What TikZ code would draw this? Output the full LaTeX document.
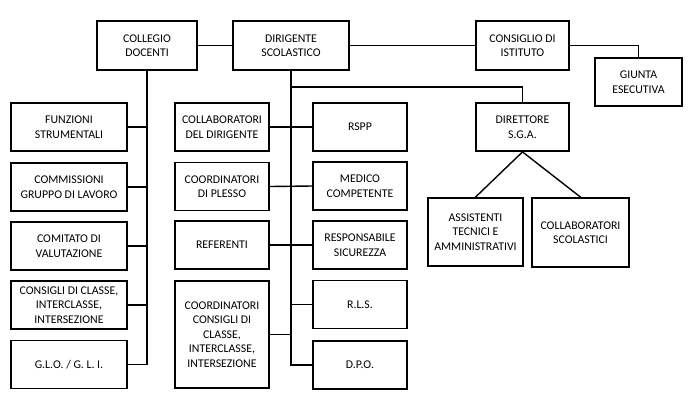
\documentclass[tikz,border=0pt]{standalone}
\usepackage{fontspec}
\setmainfont{Carlito}
\usepackage{tikz}
\tikzstyle{orgbox} = [draw=black, fill=white, line width=1.8pt,
rectangle, inner sep=2pt, align=center, minimum height=48pt,
font=\fontsize{11.8}{14.5}\selectfont]
\tikzstyle{link} = [line width=1.4pt]

\begin{document}
\begin{tikzpicture}[x=1pt,y=-1pt]
		\useasboundingbox (0,0) rectangle (691,405);
		% vertici
		\node [orgbox, minimum width=100pt, minimum height=49pt] (coll) at (147,45.5) {COLLEGIO\\DOCENTI};
		\node [orgbox, minimum width=116pt, minimum height=49pt] (dir) at (291,45.5) {DIRIGENTE\\SCOLASTICO};
		\node [orgbox, minimum width=93pt, minimum height=49pt] (cons) at (522.5,45.5) {CONSIGLIO DI\\ISTITUTO};
		\node [orgbox, minimum width=87pt] (giunta) at (638.5,82) {GIUNTA\\ESECUTIVA};
		% colonna del collegio
		\node [orgbox, minimum width=116pt] (funz) at (69,127) {FUNZIONI\\STRUMENTALI};
		\node [orgbox, minimum width=116pt] (comm) at (69,187) {COMMISSIONI\\GRUPPO DI LAVORO};
		\node [orgbox, minimum width=116pt] (comit) at (69,246) {COMITATO DI\\VALUTAZIONE};
		\node [orgbox, minimum width=116pt] (cdc) at (69,305) {CONSIGLI DI CLASSE,\\INTERCLASSE,\\INTERSEZIONE};
		\node [orgbox, minimum width=116pt] (glo) at (69,364.5) {G.L.O. / G. L. I.};
		% colonne del dirigente
		\node [orgbox, minimum width=94pt] (collab) at (222,127) {COLLABORATORI\\DEL DIRIGENTE};
		\node [orgbox, minimum width=94pt] (plesso) at (222,186.5) {COORDINATORI\\DI PLESSO};
		\node [orgbox, minimum width=94pt] (refer) at (222,245) {REFERENTI};
		\node [orgbox, minimum width=94pt, minimum height=107pt] (ccons) at (222,334.5) {COORDINATORI\\CONSIGLI DI\\CLASSE,\\INTERCLASSE,\\INTERSEZIONE};
		\node [orgbox, minimum width=94pt] (rspp) at (360,127) {RSPP};
		\node [orgbox, minimum width=94pt] (medico) at (360,186) {MEDICO\\COMPETENTE};
		\node [orgbox, minimum width=94pt] (resp) at (360,245) {RESPONSABILE\\SICUREZZA};
		\node [orgbox, minimum width=94pt] (rls) at (360,304.5) {R.L.S.};
		\node [orgbox, minimum width=94pt] (dpo) at (360,365) {D.P.O.};
		% area amministrativa
		\node [orgbox, minimum width=93pt] (dsga) at (522.5,127) {DIRETTORE\\S.G.A.};
		\node [orgbox, minimum width=95pt, minimum height=68pt] (ata) at (475.5,232) {ASSISTENTI\\TECNICI E\\AMMINISTRATIVI};
		\node [orgbox, minimum width=97pt, minimum height=69pt] (cscol) at (580.5,232.5) {COLLABORATORI\\SCOLASTICI};
		\coordinate (dsplit) at (291,87);

		\draw [link] (coll) -- (dir);
		\draw [link] (dir) -- (cons);
		\draw [link] (cons.east) -| (giunta.north);
		\draw [link] (coll.south) |- (glo.east);
		\foreach \n in {funz,comm,comit,cdc}
			\draw [link] (\n.east) -- (\n.east -| coll.south);
		\draw [link] (dir.south) |- (dpo.west);
		\draw [link] (dsplit) -| (dsga.north);
		\draw [link] (collab.east) -- (rspp.west);
		\draw [link] (plesso.east) -- (medico.west);
		\draw [link] (refer.east) -- (resp.west);
		\draw [link] (rls.west) -- (rls.west -| dir.south);
		\draw [link] (ccons.east) -- (ccons.east -| dir.south);
		\draw [link] (dsga.south) -- (ata.north);
		\draw [link] (dsga.south) -- (cscol.north);
\end{tikzpicture}
\end{document}
